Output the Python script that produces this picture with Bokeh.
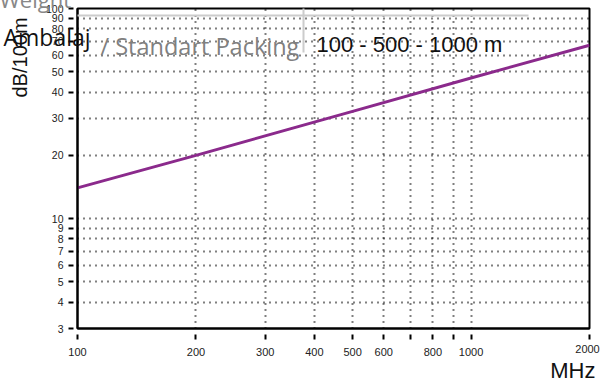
import math
from bokeh.plotting import figure
from bokeh.models import FixedTicker, Label, BoxAnnotation
from bokeh.embed import file_html
from bokeh.resources import INLINE

# ---- data ----
freq_mhz = [100, 200, 500, 1000, 2000]
atten_db_per_100m = [14.0, 20.0, 32.4, 46.7, 66.8]

x_ticks = [100, 200, 300, 400, 500, 600, 700, 800, 900, 1000, 2000]
x_tick_labels = ["100", "200", "300", "400", "500", "600", "", "800", "", "1000", ""]
y_ticks = [3, 4, 5, 6, 7, 8, 9, 10, 20, 30, 40, 50, 60, 70, 80, 90, 100]
y_tick_labels = [str(v) for v in y_ticks]

x_title = "MHz"
y_title = "dB/100m"

# hidden left strip: holds side-panel labels; shifted out of view
OX = 320
W, H = 600 + OX, 385

p = figure(width=W, height=H, x_axis_type="log", y_axis_type="log",
           x_range=(100, 2000), y_range=(3, 100),
           output_backend="svg", toolbar_location=None,
           min_border_left=77 + OX, min_border_right=11,
           min_border_top=8, min_border_bottom=57,
           background_fill_color="white", border_fill_color="white",
           styles={"margin-left": f"-{OX}px"})

p.outline_line_color = "black"
p.outline_line_width = 2

TICK_FONT = "Liberation Sans"

# axes
for ax in (p.xaxis[0], p.yaxis[0]):
    ax.axis_line_width = 2
    ax.axis_line_color = "black"
    ax.major_tick_line_width = 2
    ax.major_tick_line_color = "black"
    ax.minor_tick_line_color = None
    ax.major_label_text_font = TICK_FONT
    ax.major_label_text_color = "#222222"

p.xaxis.ticker = FixedTicker(ticks=x_ticks)
p.xaxis.major_label_overrides = {t: l for t, l in zip(x_ticks, x_tick_labels)}
p.xaxis.major_tick_in = -6
p.xaxis.major_tick_out = 11
p.xaxis.major_label_standoff = 8
p.xaxis.major_label_text_font_size = "11px"

p.yaxis.ticker = FixedTicker(ticks=y_ticks)
p.yaxis.major_label_overrides = {t: l for t, l in zip(y_ticks, y_tick_labels)}
p.yaxis.major_tick_in = -4
p.yaxis.major_tick_out = 9
p.yaxis.major_label_standoff = 5
p.yaxis.major_label_text_font_size = "10.5px"

# grids
for g in (p.xgrid[0], p.ygrid[0]):
    g.grid_line_color = "black"
    g.grid_line_width = 2
    g.grid_line_dash = "1 5"

# data line
p.line(freq_mhz, atten_db_per_100m, line_color="#8b2a8c", line_width=3)

# gray page rules (drawn from the side panel so they are not clipped)
box_kw = dict(left_units="canvas", right_units="canvas",
              top_units="canvas", bottom_units="canvas",
              fill_color="#cccccc", fill_alpha=1, line_color=None)
p.add_layout(BoxAnnotation(left=OX + 0, right=OX + 528, top=14, bottom=16, **box_kw), "left")
p.add_layout(BoxAnnotation(left=OX + 302, right=OX + 304, top=0, bottom=52, **box_kw), "left")


def side_label(x, y, text, font, size, color, align="left", angle=0.0):
    # labels outside the frame live in the (wide, hidden) left panel
    p.add_layout(Label(x=OX + x, y=y, x_units="canvas", y_units="canvas",
                       text=text, text_align=align, text_baseline="alphabetic",
                       angle=angle, text_font=font, text_font_size=size,
                       text_color=color), "left")


def frame_label(x, y, text, font, size, color):
    p.add_layout(Label(x=OX + x, y=y, x_units="canvas", y_units="canvas",
                       text=text, text_align="left", text_baseline="alphabetic",
                       text_font=font, text_font_size=size, text_color=color))


# raised 2000 tick label
side_label(587, 348, "2000", TICK_FONT, "11px", "#222222", align="center")

# axis titles
side_label(595, 370, x_title, "Liberation Sans", "22px", "#111111", align="right")
side_label(19, 97, y_title, "Liberation Sans", "20px", "#111111", angle=math.pi / 2)

# overlay page texts
side_label(-1, -2, "Weight", "Open Sans", "22px", "#888888")
side_label(3, 36, "Ambalaj", "Open Sans", "23px", "#111111")
frame_label(100, 45, "/ Standart Packing", "Open Sans", "23.5px", "#808080")
frame_label(316, 44, "100 - 500 - 1000 m", "Liberation Sans", "22px", "#111111")

open("out.html", "w").write(file_html(p, INLINE))
